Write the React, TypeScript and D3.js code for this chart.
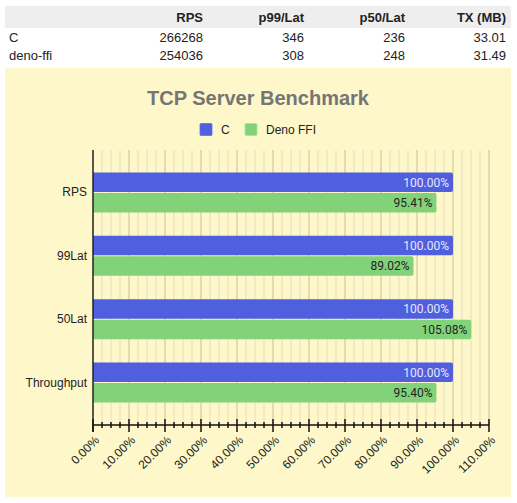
import React, { useEffect, useRef } from 'react';
import * as d3 from 'd3';

// table data
const tableColumns = ['RPS', 'p99/Lat', 'p50/Lat', 'TX (MB)'];
const tableRows = ['C', 'deno-ffi'];
const tableValues = [
  ['266268', '346', '236', '33.01'],
  ['254036', '308', '248', '31.49'],
];

// chart data
const categories = ['RPS', '99Lat', '50Lat', 'Throughput'];
const seriesNames = ['C', 'Deno FFI'];
const cValues = [1.0, 1.0, 1.0, 1.0];
const denoValues = [0.9541, 0.8902, 1.0508, 0.954];
const xTicks = [0, 0.1, 0.2, 0.3, 0.4, 0.5, 0.6, 0.7, 0.8, 0.9, 1.0, 1.1];

const colors = ['#505fdd', '#82d27a'];
const labelColors = ['#e6e9ff', '#222'];

const width = 517;
const height = 503;

const App = () => {
  const svgRef = useRef<SVGSVGElement>(null);

  useEffect(() => {
    const svg = d3.select(svgRef.current);
    svg.selectAll('*').remove();

    // ---- table ----
    const table = svg.append('g').attr('font-family', '"Liberation Sans", Arial, sans-serif')
      .attr('font-size', 13).attr('fill', '#222');
    table.append('rect').attr('x', 5).attr('y', 6).attr('width', 506).attr('height', 22).attr('fill', '#eeeeee');
    const colRight = [203, 304, 405, 506];
    tableColumns.forEach((c, i) => {
      table.append('text').attr('x', colRight[i]).attr('y', 21.5)
        .attr('text-anchor', 'end').attr('font-weight', 'bold').text(c);
    });
    tableRows.forEach((r, j) => {
      const y = 41.5 + j * 18;
      table.append('text').attr('x', 9).attr('y', y).text(r);
      tableValues[j].forEach((v, i) => {
        table.append('text').attr('x', colRight[i]).attr('y', y).attr('text-anchor', 'end').text(v);
      });
    });

    // ---- chart background ----
    svg.append('rect').attr('x', 5).attr('y', 68).attr('width', 506).attr('height', 429).attr('fill', '#fef7c9');

    svg.append('text').attr('x', 258).attr('y', 105).attr('text-anchor', 'middle')
      .attr('font-family', '"Liberation Sans", Arial, sans-serif').attr('font-weight', 'bold')
      .attr('font-size', 20).attr('fill', '#757575').text('TCP Server Benchmark');

    // legend
    const legendX = [200, 245];
    seriesNames.forEach((s, i) => {
      svg.append('rect').attr('x', legendX[i]).attr('y', 123.5).attr('width', 12).attr('height', 12)
        .attr('rx', 1).attr('fill', colors[i]).attr('stroke', d3.color(colors[i])!.brighter(0.4).toString()).attr('stroke-width', 0.8);
      svg.append('text').attr('x', legendX[i] + 21).attr('y', 134).attr('font-size', 12)
        .attr('font-family', '"Liberation Sans", Arial, sans-serif').attr('fill', '#222').text(s);
    });

    const x = d3.scaleLinear().domain([0, 1.1]).range([93, 489]);
    const top = 150;
    const axisY = 425;

    const y0 = d3.scaleBand<string>().domain(categories).range([top, axisY])
      .paddingInner(0.368).paddingOuter(0.355);
    const y1 = d3.scaleBand<string>().domain(seriesNames).range([0, y0.bandwidth()]).paddingInner(0.05);

    // grid
    const gridTicks = d3.range(0, 44 + 1).map(i => i * 0.025);
    svg.append('g').selectAll('line').data(gridTicks.slice(1)).join('line')
      .attr('x1', d => x(d)).attr('x2', d => x(d))
      .attr('y1', top).attr('y2', axisY)
      .attr('stroke', (d, i) => ((i + 1) % 4 === 0 ? '#c9bf95' : '#e4ddbf'))
      .attr('stroke-width', 1);

    // bars
    const series = [cValues, denoValues];
    categories.forEach((cat, ci) => {
      series.forEach((vals, si) => {
        const by = y0(cat)! + y1(seriesNames[si])!;
        const bw = y1.bandwidth();
        const xe = x(vals[ci]);
        const r = 2;
        const path = `M${x(0)},${by}H${xe - r}Q${xe},${by} ${xe},${by + r}V${by + bw - r}Q${xe},${by + bw} ${xe - r},${by + bw}H${x(0)}Z`;
        svg.append('path').attr('d', path).attr('fill', colors[si]);
        svg.append('text').attr('x', xe - 4).attr('y', by + bw / 2 + 4.3)
          .attr('text-anchor', 'end').attr('font-family', 'Roboto, sans-serif').attr('font-size', 12)
          .attr('fill', labelColors[si]).text(d3.format('.2%')(vals[ci]));
      });
    });

    // y labels
    svg.append('g').selectAll('text').data(categories).join('text')
      .attr('x', 87).attr('y', d => y0(d)! + y0.bandwidth() / 2 + 4)
      .attr('text-anchor', 'end').attr('font-family', '"Liberation Sans", Arial, sans-serif')
      .attr('font-size', 12).attr('fill', '#222').text(d => d);

    // axes lines
    svg.append('line').attr('x1', x(0)).attr('x2', x(0)).attr('y1', top).attr('y2', 432)
      .attr('stroke', '#222').attr('stroke-width', 1.5);
    svg.append('line').attr('x1', x(0)).attr('x2', x(1.1)).attr('y1', axisY).attr('y2', axisY)
      .attr('stroke', '#111').attr('stroke-width', 1.5);
    svg.append('g').selectAll('line').data(gridTicks).join('line')
      .attr('x1', d => x(d)).attr('x2', d => x(d))
      .attr('y1', (d, i) => (i % 4 === 0 ? 419 : 422))
      .attr('y2', (d, i) => (i % 4 === 0 ? 432 : 428))
      .attr('stroke', '#111').attr('stroke-width', 1.5);

    // x tick labels
    svg.append('g').selectAll('text').data(xTicks).join('text')
      .attr('transform', d => `translate(${x(d) + 4},${438}) rotate(-45)`)
      .attr('text-anchor', 'end').attr('dy', '0.35em')
      .attr('font-family', '"Liberation Sans", Arial, sans-serif').attr('font-size', 12)
      .attr('fill', '#222').text(d => d3.format('.2%')(d));
  }, []);

  return (
    <svg ref={svgRef} width={width} height={height}
      style={{ position: 'absolute', left: 0, top: 0 }} />
  );
};

export default App;
